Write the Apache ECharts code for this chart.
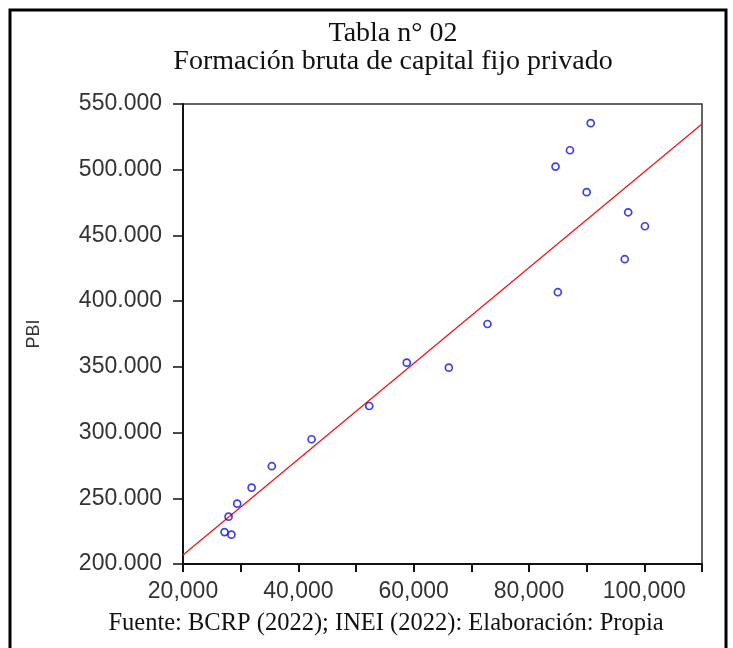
<!DOCTYPE html>
<html>
<head>
<meta charset="utf-8">
<script src="https://cdn.jsdelivr.net/npm/echarts@6/dist/echarts.min.js"></script>
<style>html,body{margin:0;padding:0;background:#fff;}#chart{width:733px;height:648px;}</style>
</head>
<body>
<div id="chart"></div>
<script>
// Formación bruta de capital fijo privado (x) vs PBI (y)
const fbkfValues = [27200, 28400, 27900, 29400, 31900, 35400, 42300, 52300, 58800, 66100, 72800, 85000, 84600, 87100, 90700, 90000, 97200, 100100, 96600];
const pbiValues  = [224300, 222300, 236000, 245900, 258100, 274400, 294900, 320200, 353200, 349400, 382600, 406800, 502400, 514800, 535400, 482900, 467600, 457000, 431900];
// fitted regression line endpoints
const fitX = [20000, 110000];
const fitY = [206850, 534840];
const xTickLabels = [20000, 40000, 60000, 80000, 100000];
const yTickLabels = [200000, 250000, 300000, 350000, 400000, 450000, 500000, 550000];

const titleText = 'Tabla n° 02\nFormación bruta de capital fijo privado';
const footerText = 'Fuente: BCRP (2022); INEI (2022): Elaboración: Propia';

const scatterData = fbkfValues.map((x, i) => [x, pbiValues[i]]);
const lineData = fitX.map((x, i) => [x, fitY[i]]);

function fmt(v, sep) {
  return String(Math.round(v)).replace(/\B(?=(\d{3})+(?!\d))/g, sep);
}

const chart = echarts.init(document.getElementById('chart'), null, {renderer: 'canvas'});
chart.setOption({
  animation: false,
  backgroundColor: '#fff',
  title: {
    text: titleText,
    left: 388,
    top: 15,
    textAlign: 'center',
    textStyle: {fontFamily: 'Liberation Serif', fontSize: 28, fontWeight: 'normal', color: '#111', lineHeight: 28}
  },
  grid: {left: 183, right: 31, top: 104, bottom: 84, show: true, borderColor: '#333', borderWidth: 1.5},
  xAxis: {
    type: 'value', min: 20000, max: 110000, interval: 10000,
    splitLine: {show: false},
    axisLine: {show: true, lineStyle: {color: '#111', width: 2}},
    axisTick: {show: true, inside: false, length: 8, lineStyle: {color: '#111', width: 2}},
    axisLabel: {
      margin: 16, fontFamily: 'Liberation Sans', fontSize: 23, color: '#333',
      formatter: v => xTickLabels.indexOf(v) >= 0 ? fmt(v, ',') : ''
    }
  },
  yAxis: {
    type: 'value', min: 200000, max: 550000, interval: 50000,
    name: 'PBI', nameLocation: 'middle', nameRotate: 90, nameGap: 140,
    nameTextStyle: {fontFamily: 'Liberation Sans', fontSize: 18, color: '#333'},
    splitLine: {show: false},
    axisLine: {show: true, lineStyle: {color: '#111', width: 2}},
    axisTick: {show: true, inside: false, length: 10, lineStyle: {color: '#111', width: 1.5}},
    axisLabel: {
      margin: 21, fontFamily: 'Liberation Sans', fontSize: 23, color: '#333',
      formatter: v => yTickLabels.indexOf(v) >= 0 ? fmt(v, '.') : ''
    }
  },
  graphic: [
    {type: 'rect', shape: {x: 10, y: 10, width: 716, height: 660}, style: {fill: 'none', stroke: '#000', lineWidth: 3}, silent: true},
    {type: 'text', x: 386, y: 624, style: {text: footerText, font: '24.5px "Liberation Serif"', fill: '#111', textAlign: 'center', textVerticalAlign: 'middle'}}
  ],
  series: [
    {
      type: 'line', data: lineData, showSymbol: false, symbol: 'none',
      lineStyle: {color: '#ee1c1c', width: 1.4}, z: 2
    },
    {
      type: 'scatter', data: scatterData, symbol: 'circle', symbolSize: 7,
      itemStyle: {color: 'rgba(255,255,255,0)', borderColor: '#1010e0', borderWidth: 1.7}, z: 3
    }
  ]
});
</script>
</body>
</html>
